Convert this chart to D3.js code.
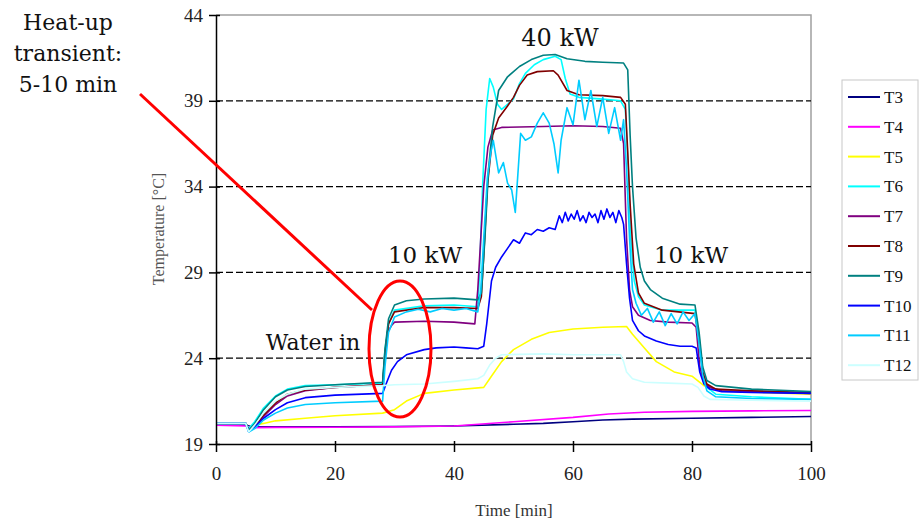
<!DOCTYPE html>
<html>
<head>
<meta charset="utf-8">
<script src="https://cdn.jsdelivr.net/npm/d3@7"></script>
<style>
  body { margin: 0; background: #fff; }
  svg { font-family: 'Liberation Serif', 'Times New Roman', serif; }
</style>
</head>
<body>
<div id="chart"></div>
<script>
// Temperature traces [time (min), temperature (°C)]
const T3 = [[0,20.1],[5,20.1],[6,20.0],[10,20.0],[20,20.0],[30,20.02],[40,20.05],[50,20.15],[55,20.2],[60,20.3],[65,20.4],[70,20.45],[80,20.5],[90,20.55],[100,20.6]];
const T4 = [[0,20.1],[5,20.05],[6,19.95],[10,19.97],[20,19.98],[30,20.0],[40,20.05],[50,20.3],[60,20.55],[66,20.75],[72,20.85],[80,20.9],[90,20.93],[100,20.95]];
const T5 = [[0,20.2],[5,20.2],[5.5,19.9],[6.5,20.1],[8,20.2],[10,20.35],[15,20.5],[20,20.65],[28,20.8],[30,21.0],[32,21.5],[35,21.95],[40,22.15],[45,22.3],[46,22.8],[48,23.8],[50,24.5],[53,25.1],[56,25.5],[60,25.7],[65,25.8],[69,25.85],[70,25.4],[72,24.6],[74,23.8],[77,23.2],[80,22.95],[82,22.4],[85,22.1],[100,21.9]];
const T6 = [[0,20.2],[5,20.2],[5.5,19.9],[6.5,20.3],[8,21.1],[10,21.8],[12,22.2],[15,22.4],[20,22.45],[28,22.55],[28.4,24.5],[29,26.0],[30,26.8],[35,27.05],[40,27.1],[44,27.0],[44.3,29],[44.8,34],[45.4,38.5],[46,40.3],[46.6,39.8],[47.3,38.8],[48,38.5],[49,38.8],[50,39.1],[51,40.0],[52,40.6],[53.5,41.1],[55,41.4],[57,41.6],[58,41.4],[58.7,40.3],[59.5,39.4],[61,39.2],[65,39.1],[68,39.0],[68.8,38.5],[69.3,35],[69.7,31],[70.3,28.5],[71,27.6],[72,27.1],[75,26.8],[80.5,26.8],[81.2,25.2],[81.8,23.2],[82.5,22.3],[84,21.9],[90,21.75],[100,21.6]];
const T7 = [[0,20.2],[5,20.2],[5.5,19.8],[6.5,20.0],[8,20.6],[10,21.3],[12,21.8],[15,22.1],[20,22.3],[28,22.45],[28.4,24],[28.8,25.5],[29.5,25.9],[30,26.1],[35,26.15],[40,26.1],[43.5,26.0],[44,28],[44.5,31],[45,34],[45.7,36.3],[46.5,37.3],[48,37.45],[55,37.5],[60,37.55],[65,37.5],[68,37.4],[68.5,36.5],[69,31],[69.5,28],[70,27.0],[71,26.5],[73,26.2],[76,26.1],[80,26.05],[80.7,25.8],[81.3,23.5],[82,22.6],[83,22.3],[85,22.1],[100,21.95]];
const T8 = [[0,20.2],[5,20.2],[5.5,19.8],[6.5,20.0],[8,20.7],[10,21.4],[12,21.9],[15,22.15],[20,22.3],[28,22.45],[28.4,24.3],[29,26.0],[30,26.7],[35,26.95],[40,26.95],[44,26.9],[44.6,27.6],[45,30],[45.6,34],[46.5,37.0],[47.5,38.0],[49,38.7],[50,39.2],[51,39.9],[52.3,40.5],[54,40.7],[56.7,40.75],[57.5,40.5],[59,39.6],[61,39.35],[65,39.3],[68,39.2],[68.8,38.8],[69.2,36],[69.6,33],[70.2,29.5],[71,27.8],[72,27.2],[75,26.8],[80.5,26.6],[81.2,25],[81.8,23.2],[82.5,22.5],[84,22.2],[90,22.1],[100,22.0]];
const T9 = [[0,20.2],[5,20.2],[5.5,19.8],[6.5,20.2],[8,21.0],[10,21.75],[12,22.15],[15,22.35],[20,22.45],[28,22.6],[28.4,24.5],[29,26.3],[30,27.1],[32,27.35],[35,27.45],[40,27.5],[44,27.4],[44.6,27.8],[45.2,31],[45.8,35],[46.5,37.5],[47.5,39.6],[49,40.4],[51,41.0],[53,41.4],[55,41.65],[57,41.7],[59,41.45],[62,41.3],[65,41.25],[68.5,41.2],[69.2,40.8],[69.6,37],[70,34],[70.6,31],[71.3,29.3],[72,28.5],[73,28.0],[75,27.5],[78,27.15],[80.5,27.1],[81.2,25.5],[81.8,23.5],[82.5,22.7],[84,22.4],[90,22.2],[100,22.05]];
const T10 = [[0,20.2],[5,20.2],[5.5,19.7],[6.5,20.0],[8,20.5],[10,21.0],[12,21.4],[15,21.7],[20,21.85],[28,21.95],[28.7,22.6],[29.5,23.3],[30.5,23.8],[32,24.2],[35,24.5],[37,24.6],[40,24.65],[42,24.6],[44,24.55],[45,24.7],[45.5,26],[46.3,28.5],[47,29.3],[48,29.9],[49,30.4],[50,30.9],[51,30.7],[52,31.3],[53,31.2],[54,31.5],[55,31.4],[56,31.6],[57,31.5],[57.7,32.3],[58.2,31.9],[58.7,32.5],[59.2,32.0],[59.7,32.4],[60.2,32.1],[60.7,32.6],[61.2,32.0],[61.7,32.3],[62.2,31.9],[62.7,32.5],[63.2,32.2],[63.7,32.4],[64.2,31.9],[64.7,32.6],[65.2,32.1],[65.7,32.7],[66.2,32.2],[66.7,32.5],[67.2,31.9],[67.7,32.6],[68.2,32.2],[68.5,31.8],[69,29.5],[69.5,27.5],[70,26.2],[71,25.6],[72,25.3],[74,25.0],[76,24.8],[78,24.7],[80,24.7],[80.7,24.6],[81.3,23.2],[82,22.5],[83,22.2],[85,22.05],[90,22.0],[100,21.95]];
const T11 = [[0,20.2],[5,20.2],[5.5,19.7],[6.5,19.9],[8,20.4],[10,20.8],[12,21.1],[15,21.3],[20,21.4],[28,21.5],[28.4,23.5],[29,25.5],[30,26.4],[32,26.7],[34,26.85],[36,26.7],[38,26.9],[40,26.8],[42,26.9],[44,26.7],[44.5,28],[45,31],[45.6,34.5],[46.2,36.0],[46.6,36.7],[47.5,34.8],[48.3,35.4],[49,34.2],[49.7,33.8],[50.3,32.5],[51.2,37.1],[52,36.7],[53,36.9],[54,37.7],[55,38.3],[56,37.7],[56.8,36.5],[57.5,34.8],[58,36.7],[59,38.6],[60,37.6],[61,40.2],[62,37.9],[63,39.6],[64,37.5],[65,39.2],[66,37.1],[67,38.6],[68,36.7],[68.5,37.9],[69,35],[69.5,31],[70,28],[70.6,27.2],[71.5,26.5],[72.5,26.9],[73.5,26.1],[74.5,26.7],[75.5,25.9],[76.5,26.6],[77.5,26.0],[78.5,26.7],[79.5,26.2],[80.5,26.6],[81.2,24.8],[81.8,23.0],[82.5,22.1],[84,21.75],[90,21.65],[100,21.6]];
const T12 = [[0,20.2],[5,20.2],[5.5,19.7],[6.5,20.1],[8,20.8],[10,21.5],[12,21.9],[15,22.2],[20,22.3],[28,22.4],[30,22.45],[35,22.5],[40,22.65],[44,22.8],[45,23.0],[46,23.6],[47,24.0],[48,24.2],[55,24.25],[60,24.2],[65,24.2],[68,24.2],[68.5,23.8],[69,23.2],[70,22.8],[72,22.6],[76,22.55],[80,22.5],[81,22.3],[82,21.8],[83,21.6],[90,21.55],[100,21.5]];

const seriesNames = ["T3", "T4", "T5", "T6", "T7", "T8", "T9", "T10", "T11", "T12"];
const seriesData = [T3, T4, T5, T6, T7, T8, T9, T10, T11, T12];
const xTicks = [0, 20, 40, 60, 80, 100];
const yTicks = [19, 24, 29, 34, 39, 44];
const gridValues = [24, 29, 34, 39];

// Excel-like palette
const colors = ["#000080", "#FF00FF", "#FFFF00", "#00FFFF", "#800080",
                "#800000", "#008080", "#0000FF", "#00CCFF", "#CCFFFF"];

const width = 924, height = 521;
const svg = d3.select("#chart").append("svg")
    .attr("width", width)
    .attr("height", height);

const x = d3.scaleLinear().domain([0, 100]).range([216, 811]);
const y = d3.scaleLinear().domain([19, 44]).range([444, 15]);

// Plot frame (grey top/right)
svg.append("path")
    .attr("d", `M${x(0)},${y(44)}H${x(100)}V${y(19)}`)
    .attr("fill", "none")
    .attr("stroke", "#a0a0a0")
    .attr("stroke-width", 1.5);

// Dashed gridlines
svg.selectAll(".grid")
    .data(gridValues)
    .enter().append("line")
    .attr("x1", x(0)).attr("x2", x(100))
    .attr("y1", d => y(d)).attr("y2", d => y(d))
    .attr("stroke", "#000")
    .attr("stroke-width", 1.2)
    .attr("stroke-dasharray", "7,3");

// Series
const line = d3.line()
    .x(d => x(d[0]))
    .y(d => y(d[1]));

svg.append("g").selectAll("path")
    .data(seriesData)
    .enter().append("path")
    .attr("d", line)
    .attr("fill", "none")
    .attr("stroke", (d, i) => colors[i])
    .attr("stroke-width", 1.6)
    .attr("stroke-linejoin", "round");

// Axes
const yAxis = svg.append("g")
    .attr("transform", `translate(${x(0)},0)`)
    .call(d3.axisLeft(y).tickValues(yTicks).tickSizeInner(7).tickSizeOuter(0).tickPadding(6));
yAxis.attr("font-family", null);
yAxis.select(".domain").attr("stroke", "#000").attr("stroke-width", 1.5);
yAxis.selectAll(".tick line").attr("x1", 4).attr("stroke-width", 1.5);
yAxis.selectAll("text").style("font-size", "19px").attr("fill", "#222");

const xAxis = svg.append("g")
    .attr("transform", `translate(0,${y(19)})`)
    .call(d3.axisBottom(x).tickValues(xTicks).tickSizeInner(8).tickSizeOuter(0).tickPadding(15));
xAxis.attr("font-family", null);
xAxis.select(".domain").attr("stroke", "#000").attr("stroke-width", 1.5);
xAxis.selectAll(".tick line").attr("y1", -3).attr("stroke-width", 1.5);
xAxis.selectAll("text").style("font-size", "19px").attr("fill", "#222");

// Axis titles
svg.append("text")
    .attr("transform", `translate(164,229) rotate(-90)`)
    .attr("text-anchor", "middle")
    .attr("fill", "#555")
    .style("font-size", "16px")
    .text("Temperature [°C]");

svg.append("text")
    .attr("x", 514).attr("y", 516)
    .attr("text-anchor", "middle")
    .attr("fill", "#333")
    .style("font-size", "17px")
    .text("Time [min]");

// Legend
const legend = svg.append("g");
legend.append("rect")
    .attr("x", 842).attr("y", 80)
    .attr("width", 76).attr("height", 300)
    .attr("fill", "#fff")
    .attr("stroke", "#c8c8c8");

const items = legend.selectAll(".item")
    .data(seriesNames)
    .enter().append("g")
    .attr("transform", (d, i) => `translate(0,${97 + i * 29.8})`);
items.append("line")
    .attr("x1", 848).attr("x2", 880)
    .attr("stroke", (d, i) => colors[i])
    .attr("stroke-width", 2);
items.append("text")
    .attr("x", 884).attr("dy", "0.35em")
    .style("font-size", "17px")
    .attr("fill", "#111")
    .text(d => d);

// Annotations (wider serif face like the original)
const annFont = "'DejaVu Serif', serif";
const ann = svg.append("g").attr("fill", "#111");
ann.append("text").attr("x", 560).attr("y", 46).attr("text-anchor", "middle")
    .style("font-family", annFont).style("font-size", "24px").text("40 kW");
ann.append("text").attr("x", 425).attr("y", 263).attr("text-anchor", "middle")
    .style("font-family", annFont).style("font-size", "23px").text("10 kW");
ann.append("text").attr("x", 691).attr("y", 263).attr("text-anchor", "middle")
    .style("font-family", annFont).style("font-size", "23px").text("10 kW");
ann.append("text").attr("x", 313).attr("y", 350).attr("text-anchor", "middle")
    .style("font-family", annFont).style("font-size", "22px").text("Water in");

const heat = ["Heat-up", "transient:", "5-10 min"];
ann.selectAll(".heat")
    .data(heat)
    .enter().append("text")
    .attr("x", 68)
    .attr("y", (d, i) => 30 + i * 31)
    .attr("text-anchor", "middle")
    .style("font-family", annFont)
    .style("font-size", "22px")
    .text(d => d);

// Red callout
svg.append("line")
    .attr("x1", 140).attr("y1", 94)
    .attr("x2", 372).attr("y2", 310)
    .attr("stroke", "#ff0000")
    .attr("stroke-width", 3);

svg.append("ellipse")
    .attr("cx", 400).attr("cy", 349)
    .attr("rx", 31).attr("ry", 68)
    .attr("fill", "none")
    .attr("stroke", "#ff0000")
    .attr("stroke-width", 3);
</script>
</body>
</html>
